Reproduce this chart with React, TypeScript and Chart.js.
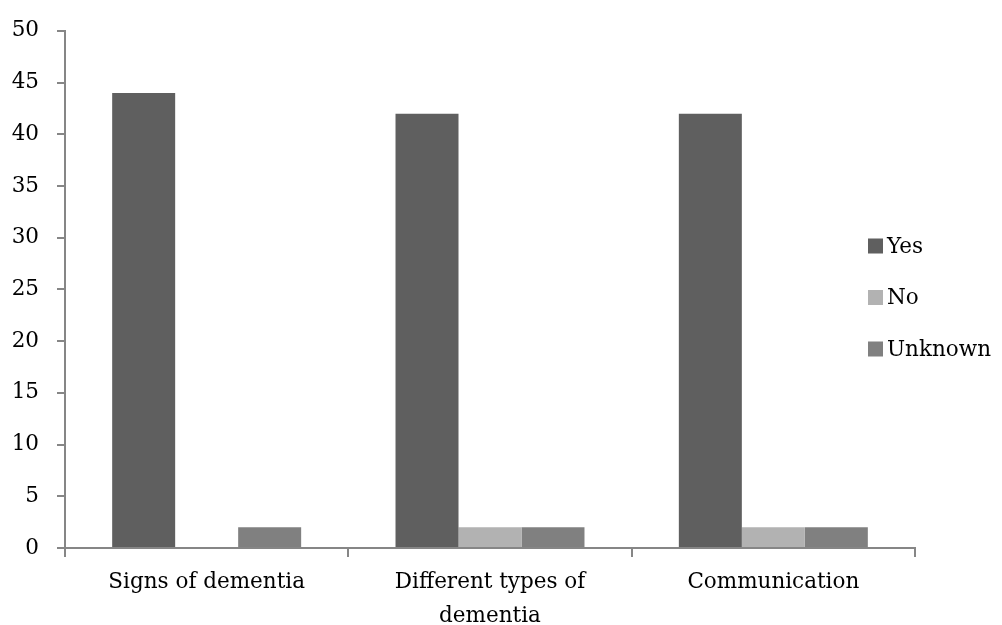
import React, { useEffect, useRef } from "react";
import { Chart, registerables } from "chart.js";

Chart.register(...registerables);

const categories: (string | string[])[] = [
  "Signs of dementia",
  ["Different types of", "dementia"],
  "Communication",
];
const seriesNames = ["Yes", "No", "Unknown"];
const yesValues = [44, 42, 42];
const noValues = [0, 2, 2];
const unknownValues = [2, 2, 2];
const seriesColors = ["#5f5f5f", "#b2b2b2", "#808080"];

const FONT = "'DejaVu Serif', serif";
const FONT_SIZE = 21.5;
const AXIS = "#868686";

const legendPlugin = {
  id: "customLegend",
  afterDraw(chart: any) {
    const ctx = chart.ctx;
    ctx.save();
    ctx.font = `${FONT_SIZE}px ${FONT}`;
    ctx.textBaseline = "middle";
    ctx.textAlign = "left";
    chart.data.datasets.forEach((ds: any, i: number) => {
      const cy = 246 + i * 51.5;
      ctx.fillStyle = ds.backgroundColor;
      ctx.fillRect(868, cy - 7.5, 15, 15);
      ctx.fillStyle = "#000";
      ctx.fillText(ds.label, 887, cy + 1);
    });
    ctx.restore();
  },
};

export default function App() {
  const ref = useRef<HTMLCanvasElement | null>(null);
  useEffect(() => {
    if (!ref.current) return;
    const values = [yesValues, noValues, unknownValues];
    const chart = new Chart(ref.current, {
      type: "bar",
      data: {
        labels: categories,
        datasets: seriesNames.map((name, i) => ({
          label: name,
          data: values[i],
          backgroundColor: seriesColors[i],
          borderWidth: 0,
          categoryPercentage: 0.667,
          barPercentage: 1,
        })),
      },
      options: {
        animation: false,
        responsive: false,
        maintainAspectRatio: false,
        layout: { padding: { top: 21, right: 87, left: 0, bottom: 0 } },
        plugins: { legend: { display: false }, tooltip: { enabled: false } },
        scales: {
          x: {
            grid: {
              display: true,
              drawOnChartArea: false,
              drawTicks: true,
              tickLength: 9,
              color: AXIS,
              lineWidth: 2,
              offset: true,
            },
            border: { display: true, color: AXIS, width: 2 },
            ticks: {
              color: "#000",
              font: { family: FONT, size: FONT_SIZE, lineHeight: 1.55 },
              padding: 9,
              maxRotation: 0,
              autoSkip: false,
            },
            afterFit(scale: any) {
              scale.height = 77;
            },
          },
          y: {
            min: 0,
            max: 50,
            ticks: {
              stepSize: 5,
              color: "#000",
              font: { family: FONT, size: FONT_SIZE },
              padding: 18,
            },
            grid: {
              display: true,
              drawOnChartArea: false,
              drawTicks: true,
              tickLength: 8,
              color: AXIS,
              lineWidth: 2,
            },
            border: { display: true, color: AXIS, width: 2 },
            afterFit(scale: any) {
              scale.width = 65;
            },
          },
        },
      },
      plugins: [legendPlugin],
    });
    return () => chart.destroy();
  }, []);
  return (
    <div style={{ position: "absolute", left: 0, top: 0, width: 1002, height: 625, background: "#fff" }}>
      <canvas ref={ref} width={1002} height={625} style={{ display: "block" }} />
    </div>
  );
}
